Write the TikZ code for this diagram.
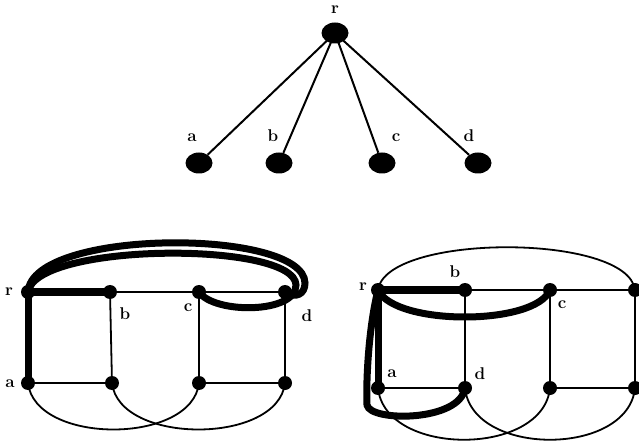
\documentclass[tikz,border=0pt]{standalone}
\usetikzlibrary{shapes.geometric}
\begin{document}
\begin{tikzpicture}[x=1pt,y=-1pt,
  lbl/.style={font=\fontsize{17}{17}\selectfont\bfseries, inner sep=0pt},
  tdot/.style={ellipse, fill=black, minimum width=27pt, minimum height=21pt, inner sep=0pt},
  gdot/.style={circle, fill=black, minimum size=14pt, inner sep=0pt},
  thin edge/.style={line width=1.8pt},
  tree edge/.style={line width=2pt},
  thick edge/.style={line width=7pt, line cap=round}]
\useasboundingbox (0,0) rectangle (639,443);

% ---------- top tree ----------
\node[tdot] (tr) at (335,33) {};
\node[tdot] (ta) at (199,163) {};
\node[tdot] (tb) at (279,163) {};
\node[tdot] (tc) at (382,163) {};
\node[tdot] (td) at (478,163) {};
\node[lbl] (ltr) at (335,10) {r};
\node[lbl] (lta) at (192,138) {a};
\node[lbl] (ltb) at (273,136) {b};
\node[lbl] (ltc) at (396,138) {c};
\node[lbl] (ltd) at (469,136) {d};
\draw[tree edge] (tr.center) -- (ta);
\draw[tree edge] (tr.center) -- (tb);
\draw[tree edge] (tr.center) -- (tc);
\draw[tree edge] (tr.center) -- (td);

% ---------- left graph ----------
\node[gdot] (Lr) at (28,292) {};
\node[gdot] (Lb) at (110,292) {};
\node[gdot] (Lc) at (199,292) {};
\node[gdot] (Ld) at (285,292) {};
\node[gdot] (La) at (28,383) {};
\node[gdot] (LB) at (112,383) {};
\node[gdot] (LC) at (199,383) {};
\node[gdot] (LD) at (285,383) {};
\node[lbl] (lLr) at (9,292) {r};
\node[lbl] (lLb) at (125,314) {b};
\node[lbl] (lLc) at (188,308) {c};
\node[lbl] (lLd) at (307,316) {d};
\node[lbl] (lLa) at (10,384) {a};
% thin edges
\draw[thin edge] (Lb.center) -- (Lc.center);
\draw[thin edge] (Lc.center) -- (Ld.center);
\draw[thin edge] (Lb.center) -- (LB.center);
\draw[thin edge] (Lc.center) -- (LC.center);
\draw[thin edge] (Ld.center) -- (LD.center);
\draw[thin edge] (La.center) -- (LB.center);
\draw[thin edge] (LC.center) -- (LD.center);
\draw[thin edge] (La.center) .. controls (35,445) and (192,445) .. (LC.center);
\draw[thin edge] (LB.center) .. controls (119,445) and (278,445) .. (LD.center);
% thick tree edges
\draw[thick edge] (Lr.center) -- (Lb.center);
\draw[thick edge] (Lr.center) -- (La.center);
\draw[thick edge] (Lr.center) .. controls (32,228) and (304,228) .. (305,283)
  .. controls (305,294) and (296,299) .. (Ld.center);
\draw[thick edge] (Lr.center) .. controls (36,242) and (295,241) .. (296,285)
  .. controls (296,314) and (214,314) .. (Lc.center);

% ---------- right graph ----------
\node[gdot] (Rr) at (378,290) {};
\node[gdot] (Rb) at (465,290) {};
\node[gdot] (Rc) at (550,290) {};
\node[gdot] (Rx) at (635,290) {};
\node[gdot] (Ra) at (378,388) {};
\node[gdot] (Rd) at (465,388) {};
\node[gdot] (RC) at (550,388) {};
\node[gdot] (RD) at (635,388) {};
\node[lbl] (lRr) at (363,287) {r};
\node[lbl] (lRb) at (455,272) {b};
\node[lbl] (lRc) at (562,305) {c};
\node[lbl] (lRa) at (392,374) {a};
\node[lbl] (lRd) at (480,374) {d};
% thin edges
\draw[thin edge] (Rb.center) -- (Rc.center);
\draw[thin edge] (Rc.center) -- (Rx.center);
\draw[thin edge] (Rb.center) -- (Rd.center);
\draw[thin edge] (Rc.center) -- (RC.center);
\draw[thin edge] (Rx.center) -- (RD.center);
\draw[thin edge] (Ra.center) -- (Rd.center);
\draw[thin edge] (RC.center) -- (RD.center);
\draw[thin edge] (Rr.center) .. controls (386,233) and (628,233) .. (Rx.center);
\draw[thin edge] (Ra.center) .. controls (385,457) and (543,457) .. (RC.center);
\draw[thin edge] (Rd.center) .. controls (472,457) and (628,457) .. (RD.center);
% thick tree edges
\draw[thick edge] (Rr.center) -- (Rb.center);
\draw[thick edge] (Rr.center) -- (Ra.center);
\draw[thick edge] (Rr.center) .. controls (395,326) and (535,326) .. (Rc.center);
\draw[thick edge] (Rr.center) .. controls (368,330) and (366,385) .. (367,405)
  .. controls (370,422) and (460,422) .. (Rd.center);
\end{tikzpicture}
\end{document}
